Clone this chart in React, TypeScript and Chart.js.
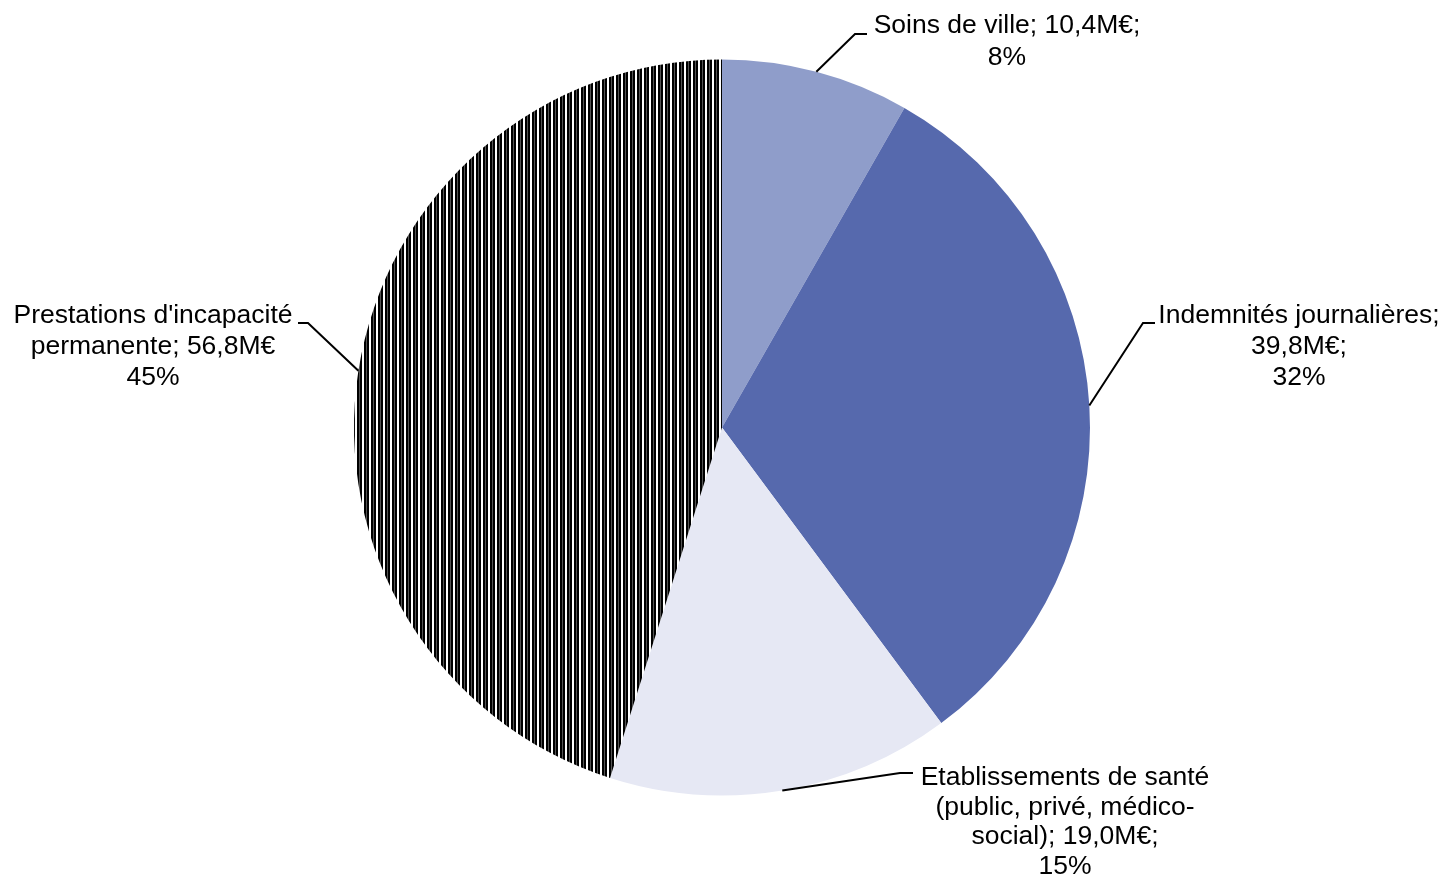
import React, { useEffect, useRef } from "react";
import { Chart, registerables } from "chart.js";

Chart.register(...registerables);

const categories = [
  "Soins de ville",
  "Indemnités journalières",
  "Etablissements de santé (public, privé, médico-social)",
  "Prestations d'incapacité permanente",
];
const valuesMEUR = [10.4, 39.8, 19.0, 56.8];
const percentLabels = ["8%", "32%", "15%", "45%"];
const labelLines = [
  ["Soins de ville; 10,4M€;", "8%"],
  ["Indemnités journalières;", "39,8M€;", "32%"],
  ["Etablissements de santé", "(public, privé, médico-", "social); 19,0M€;", "15%"],
  ["Prestations d'incapacité", "permanente; 56,8M€", "45%"],
];
const sliceColors = ["#8F9DCA", "#5669AD", "#E6E8F4", "hatch"];

// layout of labels (text centre x, first baseline y, line spacing) and leader elbows
const labelLayout = [
  { cx: 1007, y0: 33, dy: 32, elbow: [855, 34], end: [867, 34] },
  { cx: 1299, y0: 323, dy: 31, elbow: [1143, 323], end: [1155, 323] },
  { cx: 1065, y0: 785, dy: 29.5, elbow: [900, 773], end: [913, 773] },
  { cx: 153, y0: 323, dy: 31, elbow: [308, 323], end: [298, 323] },
];

function makeHatch(): CanvasPattern | string {
  const c = document.createElement("canvas");
  c.width = 7;
  c.height = 4;
  const g = c.getContext("2d");
  if (!g) return "#444";
  g.fillStyle = "#ffffff";
  g.fillRect(0, 0, 7, 4);
  g.fillStyle = "#000000";
  g.fillRect(0, 0, 2, 4);
  g.fillRect(3, 0, 2, 4);
  g.fillStyle = "#555555";
  g.fillRect(2, 0, 1, 4);
  const p = g.createPattern(c, "repeat");
  return p || "#444";
}

const labelPlugin = {
  id: "excelLabels",
  afterDraw(chart: any) {
    const ctx = chart.ctx;
    const meta = chart.getDatasetMeta(0);
    ctx.save();
    meta.data.forEach((arc: any, i: number) => {
      const lay = labelLayout[i];
      const mid = (arc.startAngle + arc.endAngle) / 2;
      const px = arc.x + arc.outerRadius * Math.cos(mid);
      const py = arc.y + arc.outerRadius * Math.sin(mid);
      ctx.strokeStyle = "#000000";
      ctx.lineWidth = 2;
      ctx.beginPath();
      ctx.moveTo(px, py);
      ctx.lineTo(lay.elbow[0], lay.elbow[1]);
      ctx.lineTo(lay.end[0], lay.end[1]);
      ctx.stroke();
      ctx.fillStyle = "#000000";
      ctx.font = '26.5px "Liberation Sans", Arial, sans-serif';
      ctx.textAlign = "center";
      ctx.textBaseline = "alphabetic";
      labelLines[i].forEach((t, k) => {
        ctx.fillText(t, lay.cx, lay.y0 + k * lay.dy);
      });
    });
    ctx.restore();
  },
};

export default function App() {
  const ref = useRef<HTMLCanvasElement | null>(null);
  useEffect(() => {
    if (!ref.current) return;
    const hatch = makeHatch();
    const chart = new Chart(ref.current, {
      type: "pie",
      data: {
        labels: categories,
        datasets: [
          {
            data: valuesMEUR,
            backgroundColor: sliceColors.map((c) => (c === "hatch" ? hatch : c)) as any,
            borderWidth: 0,
          },
        ],
      },
      options: {
        responsive: false,
        animation: false,
        devicePixelRatio: 1,
        rotation: 0,
        layout: { padding: { left: 354, right: 356, top: 59, bottom: 79 } },
        plugins: {
          legend: { display: false },
          tooltip: { enabled: false },
          title: { display: false },
        },
      },
      plugins: [labelPlugin],
    });
    return () => chart.destroy();
  }, []);
  return (
    <div style={{ position: "fixed", left: 0, top: 0, width: 1446, height: 875, background: "#ffffff" }}>
      <canvas ref={ref} width={1446} height={875} style={{ display: "block" }} />
      <span style={{ display: "none" }}>{percentLabels.join(" ")}</span>
    </div>
  );
}
